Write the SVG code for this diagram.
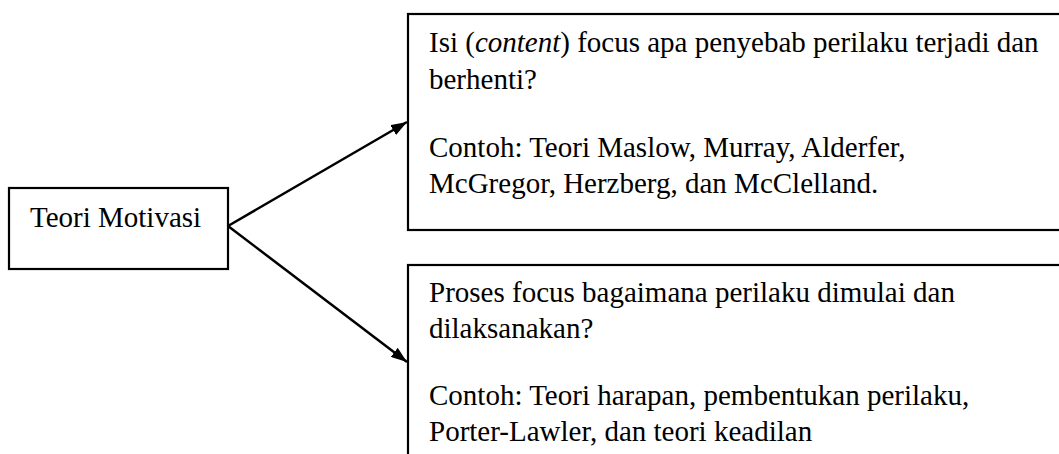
<svg xmlns="http://www.w3.org/2000/svg" width="1059" height="454" viewBox="0 0 1059 454">
<style>
.box{fill:#fff;stroke:#000;stroke-width:2.2}
.t{font-family:"Liberation Serif","Times New Roman",serif;font-size:29px;fill:#000}
.c{stroke:#000;stroke-width:2.5;fill:none}
</style>
<defs>
<marker id="ah" viewBox="0 0 14 10" refX="14" refY="5" markerWidth="6.4" markerHeight="4.6" orient="auto" markerUnits="strokeWidth">
<path d="M0,0 L14,5 L0,10 z" fill="#000"/>
</marker>
</defs>
<rect width="1059" height="454" fill="#fff"/>
<g id="node-teori">
<rect class="box" x="9" y="188" width="219" height="81"/>
<text class="t" x="30" y="227">Teori Motivasi</text>
</g>
<g id="node-isi">
<rect class="box" x="408" y="14" width="700" height="216"/>
<text class="t" x="429" y="52">Isi (<tspan font-style="italic">content</tspan>) focus apa penyebab perilaku terjadi dan</text>
<text class="t" x="429" y="89">berhenti?</text>
<text class="t" x="429" y="157">Contoh: Teori Maslow, Murray, Alderfer,</text>
<text class="t" x="429" y="193">McGregor, Herzberg, dan McClelland.</text>
</g>
<g id="node-proses">
<rect class="box" x="408" y="265" width="700" height="250"/>
<text class="t" x="429" y="302">Proses focus bagaimana perilaku dimulai dan</text>
<text class="t" x="429" y="338">dilaksanakan?</text>
<text class="t" x="429" y="405">Contoh: Teori harapan, pembentukan perilaku,</text>
<text class="t" x="429" y="441">Porter-Lawler, dan teori keadilan</text>
</g>
<g id="connectors">
<line class="c" x1="228" y1="226" x2="407" y2="122" marker-end="url(#ah)"/>
<line class="c" x1="228" y1="226" x2="407" y2="362" marker-end="url(#ah)"/>
</g>
</svg>
